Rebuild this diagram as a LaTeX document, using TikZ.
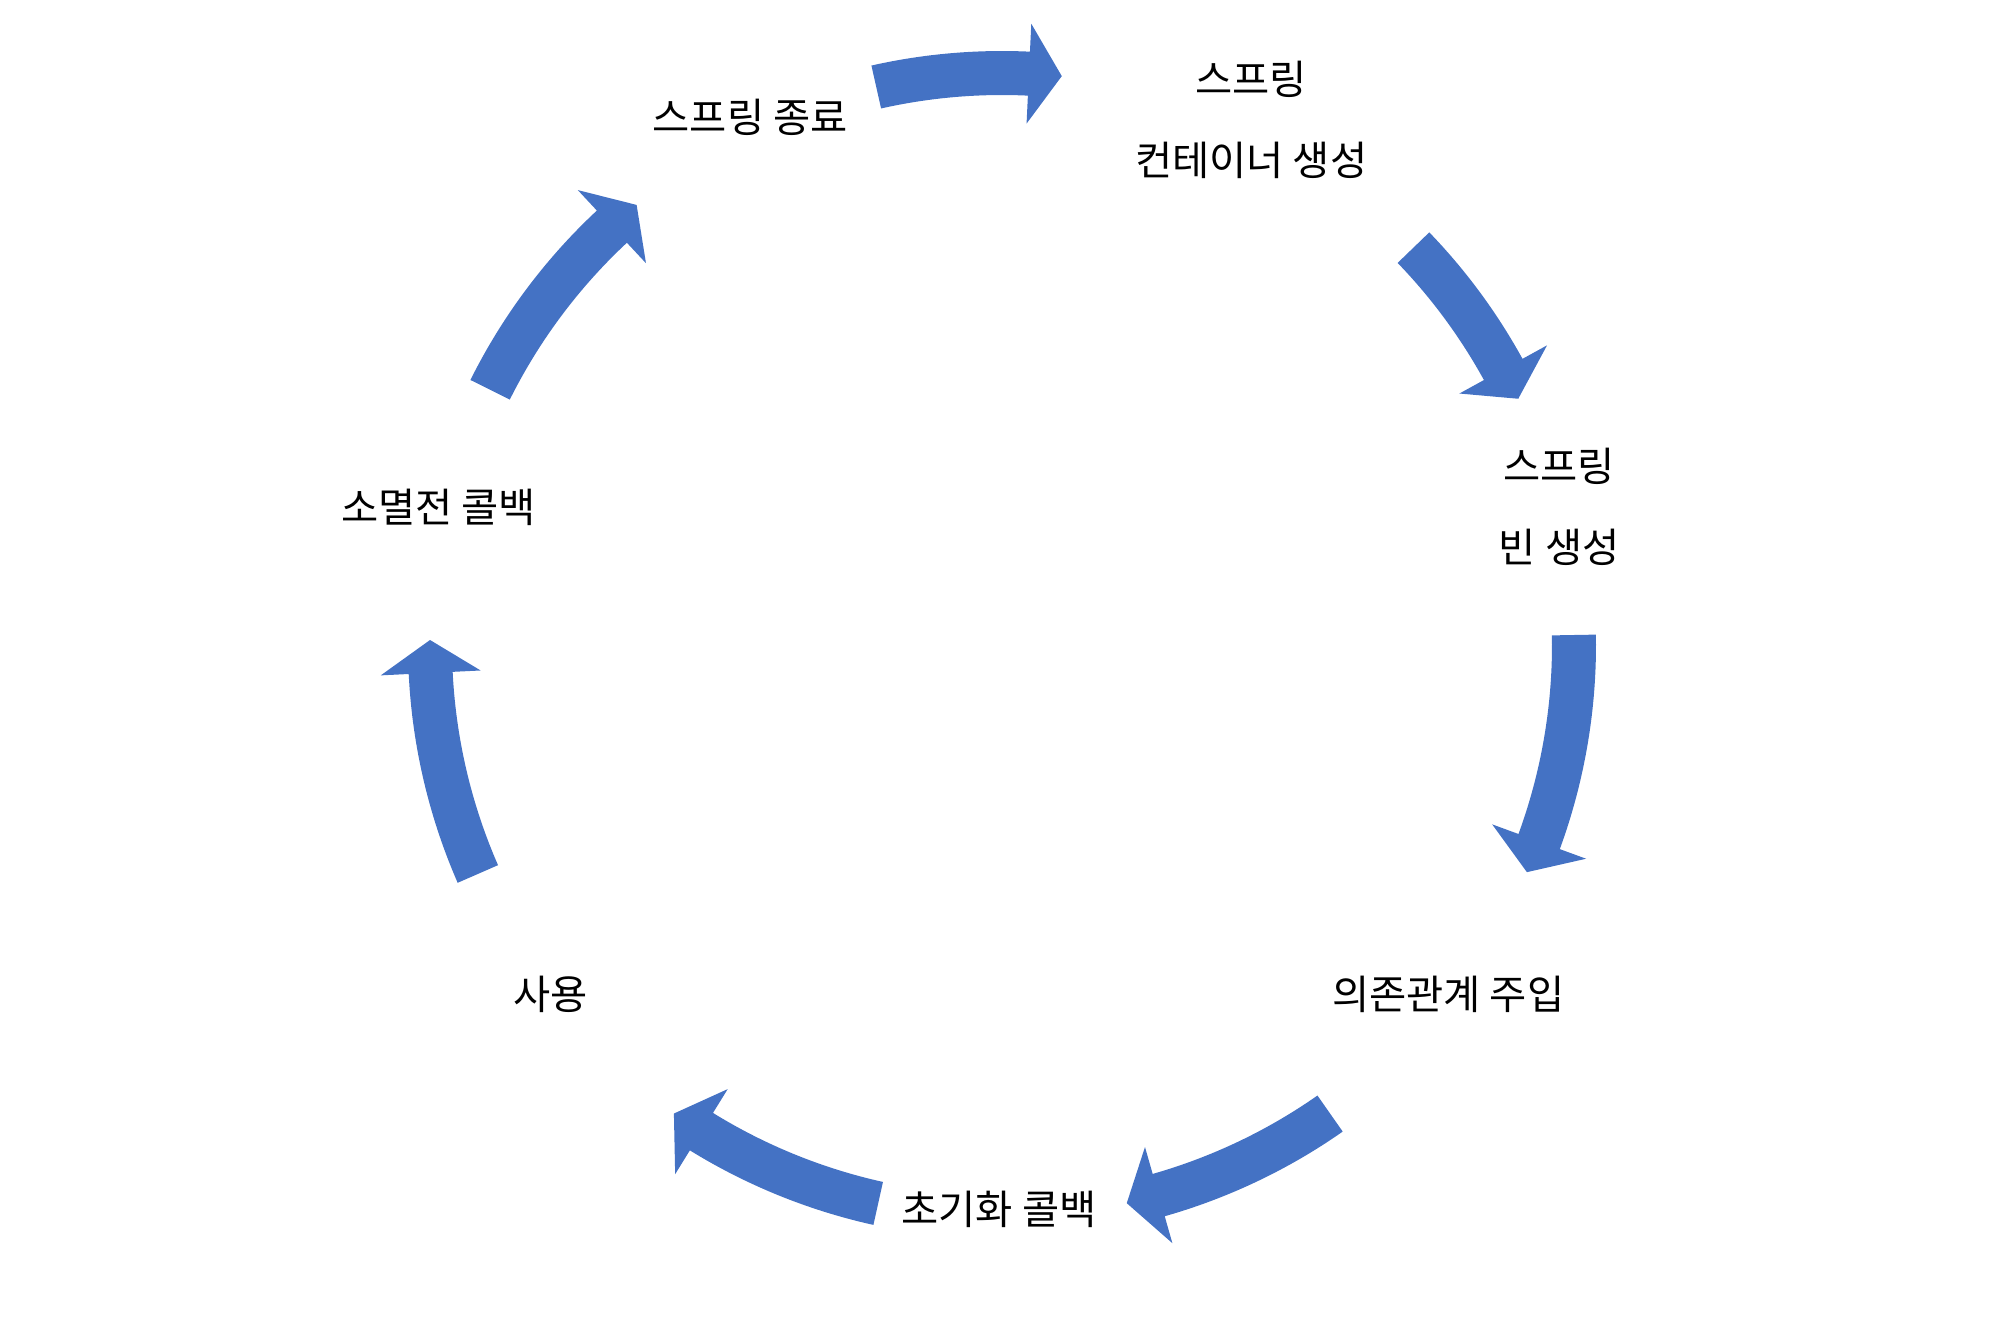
\documentclass[tikz,border=0pt]{standalone}
\usepackage{fontspec,tikz}
\usetikzlibrary{positioning}
\newfontfamily\kor{Noto Sans CJK KR}
\definecolor{cycblue}{HTML}{4472C4}
\newcommand{\cycarrow}[2]{%
  \fill[cycblue] (#1:5.94) arc[start angle=#1, end angle={#2+3.3}, radius=5.94]
    -- ({#2+3.3}:6.22) -- (#2:5.72) -- ({#2+3.3}:5.22) -- ({#2+3.3}:5.50)
    arc[start angle={#2+3.3}, end angle=#1, radius=5.50] -- cycle;}

\begin{document}
\begin{tikzpicture}[font={\kor\fontsize{11.5pt}{23pt}\selectfont},
    stage/.style={align=center, inner sep=2pt}]
  \useasboundingbox (-10.02,-6.86) rectangle (9.98,6.45);
  \node[stage] (stop) at (115.5:5.85) {스프링 종료};
  \node[stage] (container) at (64.6:5.81) {스프링\\컨테이너 생성};
  \node[stage] (bean) at (13.9:5.74) {스프링\\빈 생성};
  \node[stage] (inject) at (-38.1:5.67) {의존관계 주입};
  \node[stage] (init) at (-90.3:5.64) {초기화 콜백};
  \node[stage] (use) at (-142.3:5.71) {사용};
  \node[stage] (destroy) at (166.3:5.80) {소멸전 콜백};
  \cycarrow{102.7}{84.0}
  \cycarrow{44}{25.5}
  \cycarrow{1}{-23.4}
  \cycarrow{-55}{-77.4}
  \cycarrow{-102.5}{-125}
  \cycarrow{-156.4}{-180.5}
  \cycarrow{153.5}{129.7}
\end{tikzpicture}
\end{document}
